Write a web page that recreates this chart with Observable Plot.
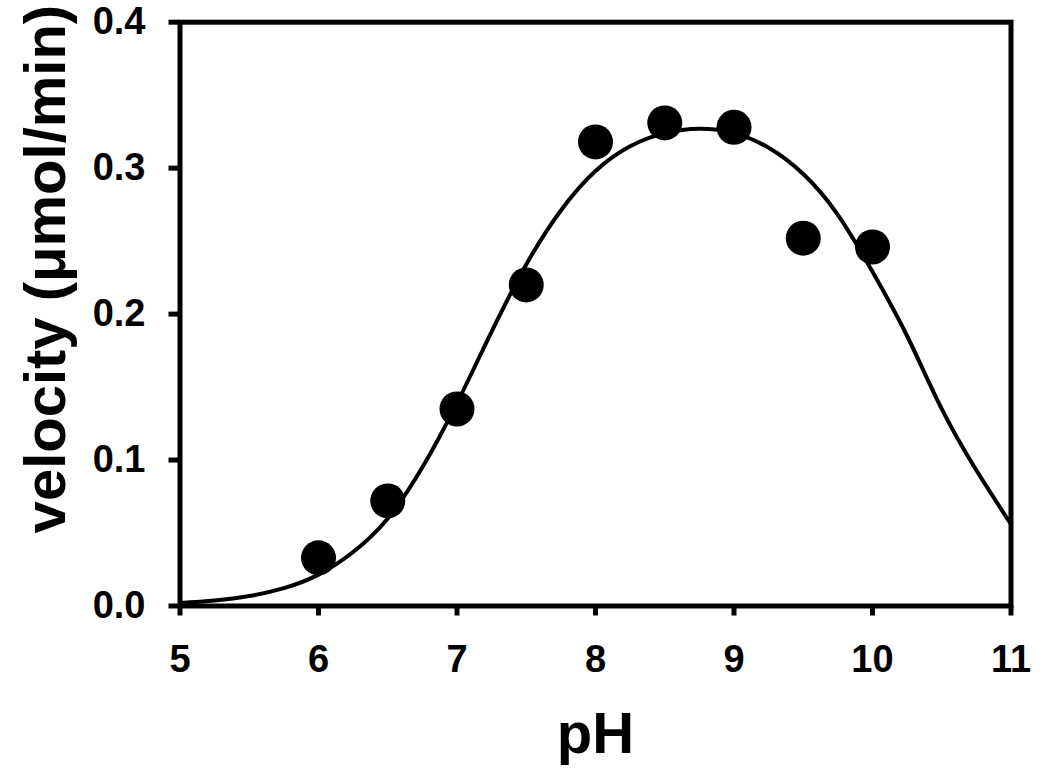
<!DOCTYPE html>
<html>
<head>
<meta charset="utf-8">
<script src="https://cdn.jsdelivr.net/npm/d3@7"></script>
<script src="https://cdn.jsdelivr.net/npm/@observablehq/plot@0.6"></script>
<style>
  html, body { margin: 0; padding: 0; background: #ffffff; }
  #chart { width: 1050px; height: 770px; }
</style>
</head>
<body>
<div id="chart"></div>
<script>
// Measured data points
const pH       = [6, 6.5, 7, 7.5, 8, 8.5, 9, 9.5, 10];
const velocity = [0.033, 0.072, 0.135, 0.220, 0.318, 0.331, 0.328, 0.252, 0.246];

// Fitted curve, every 0.25 pH
const curvePH  = [5.0, 5.25, 5.5, 5.75, 6.0, 6.25, 6.5, 6.75, 7.0, 7.25, 7.5, 7.75, 8.0, 8.25, 8.5, 8.75, 9.0, 9.25, 9.5, 9.75, 10.0, 10.25, 10.5, 10.75, 11.0];
const curveV   = [0.0020, 0.0038, 0.0068, 0.0122, 0.0215, 0.037, 0.060, 0.095, 0.139, 0.188, 0.234, 0.271, 0.298, 0.315, 0.324, 0.327, 0.324, 0.314, 0.296, 0.268, 0.229, 0.185, 0.135, 0.093, 0.056];

const xTicks = [5, 6, 7, 8, 9, 10, 11];
const yTicks = [0, 0.1, 0.2, 0.3, 0.4];
const xLabel = "pH";
const yLabel = "velocity (μmol/min)";

const points = pH.map((p, i) => ({pH: p, v: velocity[i]}));
const curve = curvePH.map((p, i) => ({pH: p, v: curveV[i]}));

const chart = Plot.plot({
  width: 1050,
  height: 770,
  marginLeft: 179.5,
  marginRight: 39.5,
  marginTop: 21.7,
  marginBottom: 164.5,
  style: {fontFamily: "'Liberation Sans', Arial, Helvetica, sans-serif", background: "#ffffff", color: "#000000"},
  x: {domain: [5, 11]},
  y: {domain: [0, 0.4]},
  marks: [
    Plot.line(curve, {x: "pH", y: "v", stroke: "#000000", strokeWidth: 4, curve: "natural"}),
    Plot.dot(points, {x: "pH", y: "v", r: 17.5, fill: "#000000", stroke: "none"}),
    Plot.frame({stroke: "#000000", strokeWidth: 5}),
    Plot.axisX({ticks: xTicks, tickFormat: d => String(d), tickSize: 10, tickPadding: 29.5, strokeWidth: 5,
                fontSize: 38, fontWeight: "bold", fill: "#000000", label: null}),
    Plot.axisY({ticks: yTicks, tickFormat: d => d.toFixed(1), tickSize: 11, tickPadding: 23.5, strokeWidth: 5,
                fontSize: 38, fontWeight: "bold", fill: "#000000", label: null}),
    Plot.text([yLabel], {text: d => d, frameAnchor: "left", rotate: -90, dx: -133.5, dy: -45,
                fontSize: 58, fontWeight: "bold", fill: "#000000", textAnchor: "middle", lineAnchor: "middle", ariaLabel: "y-title"}),
    Plot.text([xLabel], {text: d => d, frameAnchor: "bottom", dy: 128.5,
                fontSize: 58, fontWeight: "bold", fill: "#000000", textAnchor: "middle", lineAnchor: "middle", ariaLabel: "x-title"})
  ]
});

document.getElementById("chart").appendChild(chart);

// Condense the axis titles as in the reference
d3.select(chart).selectAll('g[aria-label="y-title"] text')
  .attr("textLength", 440).attr("lengthAdjust", "spacingAndGlyphs");
d3.select(chart).selectAll('g[aria-label="x-title"] text')
  .attr("textLength", 70).attr("lengthAdjust", "spacingAndGlyphs");
</script>
</body>
</html>
